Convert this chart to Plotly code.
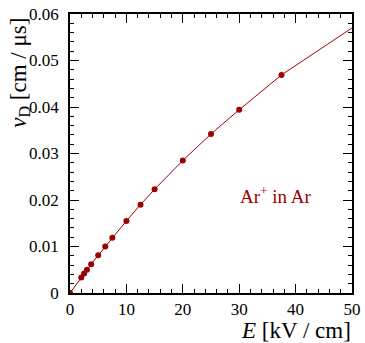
import plotly.graph_objects as go

E_field = [0, 2, 2.5, 3, 3.75, 5, 6.25, 7.5, 10, 12.5, 15, 20, 25, 30, 37.5]
v_drift = [0, 0.00335, 0.0042, 0.0050, 0.0062, 0.0081, 0.0100, 0.0119, 0.0155, 0.0190,
           0.0223, 0.0285, 0.0342, 0.0394, 0.0469]
curve_E = E_field + [50]
curve_v = v_drift + [0.0570]

x_ticks = [0, 10, 20, 30, 40, 50]
x_labels = ["0", "10", "20", "30", "40", "50"]
y_ticks = [0, 0.01, 0.02, 0.03, 0.04, 0.05, 0.06]
y_labels = ["0", "0.01", "0.02", "0.03", "0.04", "0.05", "0.06"]

red = "#9c0000"
font = "Liberation Serif, Times New Roman, serif"

fig = go.Figure()
fig.add_trace(go.Scatter(x=curve_E, y=curve_v, mode="lines",
                         line=dict(color=red, width=1), hoverinfo="skip"))
fig.add_trace(go.Scatter(x=E_field, y=v_drift, mode="markers",
                         marker=dict(color=red, size=6)))

axis_common = dict(showgrid=False, zeroline=False, showline=True, linecolor="black",
                   linewidth=1.5, mirror="allticks", ticks="inside", ticklen=9,
                   tickwidth=1, tickcolor="black", automargin=False,
                   tickfont=dict(family=font, size=17, color="black"))

fig.update_xaxes(range=[0, 50], tickvals=x_ticks, ticktext=x_labels, ticklabelstandoff=0,
                 minor=dict(ticks="inside", dtick=2, ticklen=4, tickcolor="black", tickwidth=1),
                 **axis_common)
fig.update_yaxes(range=[0, 0.06], tickvals=y_ticks, ticktext=y_labels, ticklabelstandoff=6,
                 minor=dict(ticks="inside", dtick=0.002, ticklen=4, tickcolor="black", tickwidth=1),
                 **axis_common)

fig.add_annotation(text="<i>E</i> [kV / cm]", xref="paper", yref="paper", x=1.005, y=-0.136,
                   xanchor="right", yanchor="middle", showarrow=False,
                   font=dict(family=font, size=23, color="black"))
fig.add_annotation(text="<i>v</i><sub>D</sub> [cm / μs]", xref="paper", yref="paper",
                   x=-0.18, y=0.79, xanchor="center", yanchor="middle", textangle=-90,
                   showarrow=False, font=dict(family=font, size=23, color="black"))
fig.add_annotation(text="Ar<sup>+</sup> in Ar", xref="x", yref="y", x=36.5, y=0.0211,
                   showarrow=False, font=dict(family=font, size=19, color=red))

fig.update_layout(template="none", width=365, height=343,
                  margin=dict(l=70, r=13, t=14, b=50, autoexpand=False),
                  font=dict(family=font),
                  plot_bgcolor="white", paper_bgcolor="white", showlegend=False)

fig.write_html("out.html", config={"displayModeBar": False},
               post_script="document.body.style.margin='0';document.body.style.padding='0';")
